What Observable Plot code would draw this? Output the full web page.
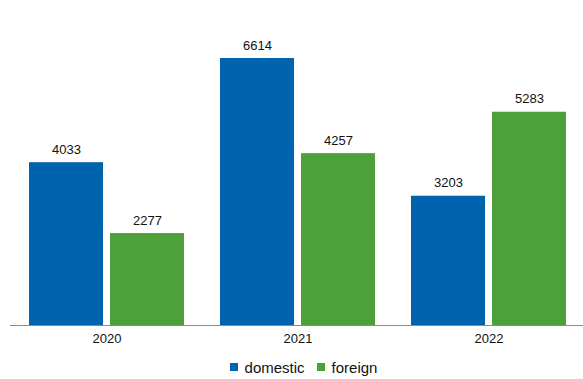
<!DOCTYPE html>
<html>
<head>
<meta charset="utf-8">
<script src="https://cdn.jsdelivr.net/npm/d3@7"></script>
<script src="https://cdn.jsdelivr.net/npm/@observablehq/plot@0.6"></script>
<style>
  body { margin: 0; background: #fff; font-family: "Liberation Sans", Arial, sans-serif; }
  #legend { display: flex; justify-content: center; align-items: center; height: 24px; font-size: 15px; color: #111; padding-left: 24px; }
  #legend .item { display: flex; align-items: center; margin: 0 6px; }
  #legend .sw { width: 8px; height: 8px; margin-right: 7px; }
</style>
</head>
<body>
<div id="chart"></div>
<div id="legend"></div>
<script>
const years = ["2020", "2021", "2022"];
const series = ["domestic", "foreign"];
const domestic = [4033, 6614, 3203];
const foreign = [2277, 4257, 5283];
const colors = ["#0063ae", "#4ea03a"];

const data = years.flatMap((y, i) => [
  {year: y, series: "domestic", value: domestic[i]},
  {year: y, series: "foreign", value: foreign[i]}
]);

const plot = Plot.plot({
  width: 583,
  height: 355,
  marginTop: 58,
  marginBottom: 30,
  marginLeft: 12,
  marginRight: 0,
  style: {fontFamily: "'Liberation Sans', Arial, sans-serif", fontSize: "13px", color: "#111", background: "#fff"},
  fx: {domain: years, paddingInner: 0.18, paddingOuter: 0.081, label: null, axis: "bottom", tickSize: 0, tickPadding: 8},
  x: {domain: series, paddingInner: 0.085, paddingOuter: 0, axis: null},
  y: {domain: [0, 6614], axis: null},
  color: {domain: series, range: colors},
  marks: [
    Plot.barY(data, {fx: "year", x: "series", y: "value", fill: "series"}),
    Plot.text(data, {fx: "year", x: "series", y: "value", text: d => String(d.value), dy: -9, lineAnchor: "bottom", fontSize: 13, fill: "#111"})
  ]
});
document.getElementById("chart").appendChild(plot);

// full-width baseline at y = 0
const y0 = plot.scale("y").apply(0);
d3.select(plot).append("line")
  .attr("x1", 10).attr("x2", 583)
  .attr("y1", y0 + 0.5).attr("y2", y0 + 0.5)
  .attr("stroke", "#8a8a8a").attr("stroke-width", 1);

const legend = document.getElementById("legend");
series.forEach((s, i) => {
  const item = document.createElement("div");
  item.className = "item";
  const sw = document.createElement("div");
  sw.className = "sw";
  sw.style.background = colors[i];
  const t = document.createElement("span");
  t.textContent = s;
  item.appendChild(sw);
  item.appendChild(t);
  legend.appendChild(item);
});
</script>
</body>
</html>
